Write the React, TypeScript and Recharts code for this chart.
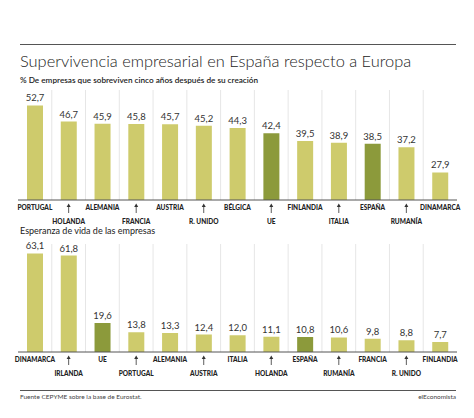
import React from 'react';
import { BarChart, Bar, XAxis, YAxis, CartesianGrid, Cell, LabelList } from 'recharts';

// Supervivencia a cinco años (%)
const survivalCountries = ['PORTUGAL', 'HOLANDA', 'ALEMANIA', 'FRANCIA', 'AUSTRIA', 'R. UNIDO', 'BÉLGICA', 'UE', 'FINLANDIA', 'ITALIA', 'ESPAÑA', 'RUMANÍA', 'DINAMARCA'];
const survivalValues = [52.7, 46.7, 45.9, 45.8, 45.7, 45.2, 44.3, 42.4, 39.5, 38.9, 38.5, 37.2, 27.9];

// Esperanza de vida (años)
const lifeCountries = ['DINAMARCA', 'IRLANDA', 'UE', 'PORTUGAL', 'ALEMANIA', 'AUSTRIA', 'ITALIA', 'HOLANDA', 'ESPAÑA', 'RUMANÍA', 'FRANCIA', 'R. UNIDO', 'FINLANDIA'];
const lifeValues = [63.1, 61.8, 19.6, 13.8, 13.3, 12.4, 12.0, 11.1, 10.8, 10.6, 9.8, 8.8, 7.7];

const highlighted = ['UE', 'ESPAÑA'];

const LIGHT = '#cecb6c';
const DARK = '#8c9a3b';
const TEXT = '#333333';
const FONT = 'Lato, "Open Sans", sans-serif';

const fmt = (v: number) => v.toFixed(1).replace('.', ',');

const CountryTick = (props: any) => {
  const { x, y, payload, index } = props;
  const low = index % 2 === 1;
  if (!low) {
    return (
      <text x={x} y={y + 10} textAnchor="middle" fontSize={6.5} fontWeight={900} fill="#222" fontFamily={FONT}>
        {payload.value}
      </text>
    );
  }
  return (
    <g>
      <line x1={x} y1={y + 6} x2={x} y2={y + 13} stroke="#333" strokeWidth={0.8} />
      <path d={`M${x - 2},${y + 7} L${x},${y + 3.5} L${x + 2},${y + 7} Z`} fill="#333" />
      <text x={x} y={y + 23.5} textAnchor="middle" fontSize={6.5} fontWeight={900} fill="#222" fontFamily={FONT}>
        {payload.value}
      </text>
    </g>
  );
};

const gridBetweenBands = ({ offset }: any) => {
  const n = 13;
  const xs: number[] = [];
  for (let i = 1; i < n; i++) xs.push(offset.left + (offset.width * i) / n);
  return xs;
};

interface PanelProps {
  countries: string[];
  values: number[];
  domain: [number, number];
  height: number;
  top: number;
  bottom: number;
}

const Panel: React.FC<PanelProps> = ({ countries, values, domain, height, top, bottom }) => {
  const data = countries.map((name, i) => ({ name, value: values[i] }));
  return (
    <BarChart width={474} height={height} data={data} margin={{ top, right: 17, left: 18, bottom }}>
      <CartesianGrid horizontal={false} stroke="#e6e6e6" verticalCoordinatesGenerator={gridBetweenBands} />
      <XAxis
        dataKey="name"
        interval={0}
        height={30}
        tickLine={false}
        tickSize={0}
        tickMargin={0}
        axisLine={{ stroke: '#555', strokeWidth: 1 }}
        tick={<CountryTick />}
      />
      <YAxis hide type="number" domain={domain} allowDataOverflow />
      <Bar dataKey="value" barSize={16} isAnimationActive={false}>
        {data.map((d) => (
          <Cell key={d.name} fill={highlighted.includes(d.name) ? DARK : LIGHT} />
        ))}
        <LabelList
          dataKey="value"
          position="top"
          offset={4}
          formatter={(v: any) => fmt(Number(v))}
          style={{ fontSize: 9.5, fill: TEXT, fontFamily: FONT }}
        />
      </Bar>
    </BarChart>
  );
};

export default function App() {
  return (
    <div style={{ position: 'absolute', left: 0, top: 0, width: 474, height: 418, background: '#fff', fontFamily: FONT, color: TEXT }}>
      <div style={{ position: 'absolute', left: 20, top: 44, width: 436, borderTop: '1px solid #555' }} />
      <div style={{ position: 'absolute', left: 20, top: 51, fontSize: 16.4, fontWeight: 300, color: '#222', whiteSpace: 'nowrap' }}>
        Supervivencia empresarial en España respecto a Europa
      </div>
      <div style={{ position: 'absolute', left: 20, top: 75, fontSize: 8.2, fontWeight: 600, color: '#222', whiteSpace: 'nowrap' }}>
        % De empresas que sobreviven cinco años después de su creación
      </div>
      <div style={{ position: 'absolute', left: 0, top: 0 }}>
        <Panel countries={survivalCountries} values={survivalValues} domain={[17.7, 58.4]} height={235} top={90} bottom={5} />
      </div>
      <div style={{ position: 'absolute', left: 20, top: 225, fontSize: 9, color: '#222', whiteSpace: 'nowrap' }}>
        Esperanza de vida de las empresas
      </div>
      <div style={{ position: 'absolute', left: 0, top: 230 }}>
        <Panel countries={lifeCountries} values={lifeValues} domain={[1.5, 69]} height={160} top={14} bottom={8} />
      </div>
      <div style={{ position: 'absolute', left: 20, top: 390, width: 436, borderTop: '1px solid #555' }} />
      <div style={{ position: 'absolute', left: 20, top: 393, fontSize: 6.5, color: '#444', whiteSpace: 'nowrap' }}>
        Fuente CEPYME sobre la base de Eurostat.
      </div>
      <div style={{ position: 'absolute', right: 18, top: 393, fontSize: 6.5, color: '#444', whiteSpace: 'nowrap' }}>
        elEconomista
      </div>
    </div>
  );
}
